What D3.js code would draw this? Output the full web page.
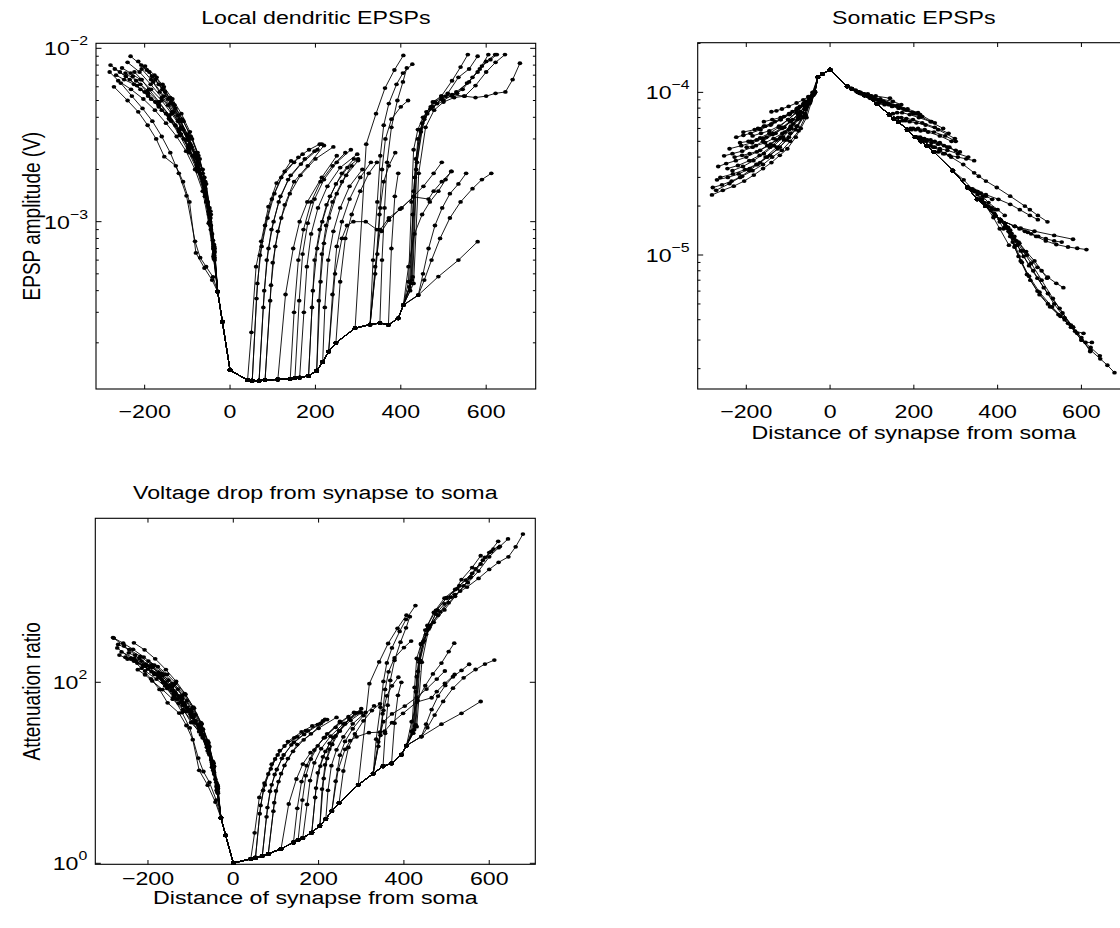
<!DOCTYPE html>
<html>
<head>
<meta charset="utf-8">
<script src="https://cdn.jsdelivr.net/npm/d3@7"></script>
<style>
  body { margin: 0; background: #fff; }
  text { font-family: "Liberation Sans", Arial, Helvetica, sans-serif; fill: #000; }
</style>
</head>
<body>
<svg id="fig" width="1120" height="928"></svg>
<script>
// ---- data: each point is [distance from soma (um), local EPSP (V), somatic EPSP (V)] ----
const xTicks = [-200, 0, 200, 400, 600];
const localTicks = [1e-3, 1e-2];
const somaTicks = [1e-5, 1e-4];
const attenTicks = [1, 100];

// main apical trunk, soma outwards
const trunk = [
  [0, 1.39e-4, 1.38e-4], [41, 1.22e-4, 1.09e-4], [52, 1.21e-4, 1.05e-4], [68, 1.21e-4, 1.0e-4],
  [82, 1.22e-4, 9.6e-5], [112, 1.23e-4, 8.5e-5], [141, 1.24e-4, 7.3e-5], [152, 1.25e-4, 6.9e-5],
  [163, 1.26e-4, 6.6e-5], [184, 1.29e-4, 5.9e-5], [203, 1.38e-4, 5.3e-5], [217, 1.55e-4, 5.0e-5],
  [231, 1.78e-4, 4.7e-5], [248, 2.0e-4, 4.3e-5], [293, 2.43e-4, 3.3e-5], [328, 2.55e-4, 2.6e-5],
  [351, 2.6e-4, 2.2e-5], [371, 2.54e-4, 2.0e-5], [394, 2.77e-4, 1.75e-5], [406, 3.3e-4, 1.65e-5],
  [441, 3.77e-4, 1.5e-5], [488, 4.82e-4, 1.4e-5], [535, 6.0e-4, 1.32e-5], [580, 7.67e-4, 1.25e-5]
];

// index of the trunk point each apical branch leaves from
const apicalFrom = [1, 2, 2, 3, 3, 4, 4, 5, 6, 7, 8, 9, 9, 10, 10, 11, 12, 13, 12, 15,
  14, 15, 15, 16, 15, 17, 19, 19, 19, 19, 19, 19, 19, 20, 20, 19];

const apicalBranches = [
  // near-soma oblique branches
  [[50, 2.3e-4, 1.06e-4], [61, 5.5e-4, 1.03e-4], [73, 7.7e-4, 1.0e-4], [90, 1.22e-3, 9.8e-5], [109, 1.67e-3, 9.5e-5], [143, 2.24e-3, 9.2e-5]],
  [[62, 3.6e-4, 1.02e-4], [70, 6.4e-4, 1.0e-4], [82, 9.5e-4, 9.8e-5], [98, 1.35e-3, 9.5e-5], [120, 1.8e-3, 9.1e-5], [150, 2.2e-3, 8.8e-5], [170, 2.45e-3, 8.4e-5]],
  [[64, 4.4e-4, 1.01e-4], [74, 7.2e-4, 9.8e-5], [88, 1.05e-3, 9.5e-5], [104, 1.45e-3, 9.2e-5], [128, 1.95e-3, 8.8e-5], [160, 2.35e-3, 8.3e-5], [185, 2.6e-3, 7.9e-5], [210, 2.8e-3, 7.5e-5]],
  [[78, 3.2e-4, 9.8e-5], [86, 6.0e-4, 9.6e-5], [97, 9.0e-4, 9.4e-5], [114, 1.3e-3, 9.0e-5], [136, 1.75e-3, 8.6e-5], [166, 2.15e-3, 8.1e-5], [205, 2.6e-3, 7.4e-5]],
  [[80, 4.0e-4, 9.7e-5], [90, 7.0e-4, 9.5e-5], [102, 1.0e-3, 9.2e-5], [118, 1.4e-3, 8.9e-5], [142, 1.85e-3, 8.5e-5], [175, 2.3e-3, 7.9e-5], [198, 2.55e-3, 7.5e-5], [215, 2.8e-3, 7.2e-5]],
  [[94, 3.5e-4, 9.3e-5], [100, 5.8e-4, 9.2e-5], [112, 8.8e-4, 9.0e-5], [128, 1.25e-3, 8.7e-5], [150, 1.7e-3, 8.3e-5], [182, 2.1e-3, 7.8e-5], [220, 2.75e-3, 7.1e-5]],
  [[96, 4.3e-4, 9.2e-5], [106, 7.2e-4, 9.0e-5], [120, 1.05e-3, 8.7e-5], [140, 1.45e-3, 8.4e-5], [165, 1.85e-3, 8.0e-5], [200, 2.3e-3, 7.4e-5], [242, 2.7e-3, 6.6e-5]],
  [[130, 3.8e-4, 8.4e-5], [148, 7.0e-4, 8.2e-5], [163, 1.0e-3, 8.0e-5], [181, 1.3e-3, 7.8e-5], [215, 1.8e-3, 7.3e-5], [250, 2.4e-3, 6.5e-5]],
  [[150, 3.0e-4, 7.4e-5], [160, 6.0e-4, 7.5e-5], [172, 9.0e-4, 7.5e-5], [190, 1.3e-3, 7.3e-5], [212, 1.7e-3, 7.0e-5], [240, 2.1e-3, 6.6e-5], [270, 2.5e-3, 6.0e-5]],
  [[162, 3.5e-4, 7.0e-5], [170, 6.5e-4, 7.0e-5], [182, 9.8e-4, 6.9e-5], [198, 1.35e-3, 6.8e-5], [220, 1.75e-3, 6.5e-5], [250, 2.2e-3, 6.1e-5], [283, 2.6e-3, 5.6e-5]],
  [[173, 3.0e-4, 6.7e-5], [180, 5.5e-4, 6.7e-5], [190, 8.5e-4, 6.6e-5], [206, 1.2e-3, 6.5e-5], [228, 1.6e-3, 6.3e-5], [258, 2.05e-3, 5.9e-5], [298, 2.45e-3, 5.2e-5]],
  [[192, 3.2e-4, 6.0e-5], [198, 6.0e-4, 6.0e-5], [210, 9.0e-4, 6.0e-5], [226, 1.25e-3, 5.9e-5], [248, 1.65e-3, 5.7e-5], [275, 2.05e-3, 5.4e-5], [300, 2.3e-3, 5.0e-5]],
  [[194, 4.0e-4, 5.9e-5], [204, 7.0e-4, 5.9e-5], [216, 1.0e-3, 5.8e-5], [234, 1.4e-3, 5.7e-5], [262, 1.9e-3, 5.4e-5], [290, 2.3e-3, 5.0e-5]],
  // middle obliques
  [[208, 3.5e-4, 5.3e-5], [215, 6.5e-4, 5.3e-5], [225, 9.5e-4, 5.2e-5], [240, 1.3e-3, 5.1e-5], [262, 1.7e-3, 4.9e-5], [285, 2.1e-3, 4.6e-5]],
  [[212, 4.5e-4, 5.2e-5], [220, 7.5e-4, 5.2e-5], [232, 1.05e-3, 5.1e-5], [250, 1.45e-3, 5.0e-5], [272, 1.85e-3, 4.7e-5], [300, 2.25e-3, 4.4e-5]],
  [[222, 3.2e-4, 5.0e-5], [230, 6.0e-4, 5.0e-5], [242, 8.8e-4, 4.9e-5], [258, 1.2e-3, 4.8e-5], [280, 1.6e-3, 4.6e-5], [310, 2.0e-3, 4.3e-5]],
  [[240, 3.8e-4, 4.7e-5], [250, 7.2e-4, 4.6e-5], [262, 1.0e-3, 4.5e-5], [280, 1.35e-3, 4.4e-5], [305, 1.8e-3, 4.2e-5], [330, 2.2e-3, 4.0e-5]],
  [[258, 4.5e-4, 4.3e-5], [270, 8.0e-4, 4.2e-5], [285, 1.1e-3, 4.1e-5], [305, 1.5e-3, 4.0e-5], [325, 1.9e-3, 3.9e-5], [344, 2.2e-3, 3.8e-5]],
  // long low branches
  [[246, 5.0e-4, 4.6e-5], [262, 8.0e-4, 4.4e-5], [274, 9.5e-4, 4.2e-5], [289, 1.0e-3, 4.0e-5], [318, 1.0e-3, 3.6e-5], [344, 9.0e-4, 3.2e-5], [355, 8.8e-4, 3.05e-5], [372, 1.02e-3, 2.85e-5], [398, 1.18e-3, 2.6e-5], [430, 1.39e-3, 2.3e-5], [465, 1.35e-3, 2.0e-5], [477, 1.5e-3, 1.9e-5], [496, 1.7e-3, 1.75e-5], [519, 1.95e-3, 1.6e-5]],
  [[340, 5.5e-4, 2.5e-5], [352, 9.0e-4, 2.45e-5], [372, 1.05e-3, 2.35e-5], [402, 1.2e-3, 2.2e-5], [430, 1.4e-3, 2.05e-5], [453, 1.6e-3, 1.9e-5], [477, 1.9e-3, 1.75e-5], [496, 2.2e-3, 1.65e-5]],
  // steep branches reaching high local EPSPs
  [[319, 2.8e-3, 2.9e-5], [342, 4.2e-3, 2.5e-5], [363, 5.9e-3, 2.2e-5], [385, 7.5e-3, 1.9e-5], [406, 9.1e-3, 1.65e-5]],
  [[335, 6.0e-4, 2.55e-5], [345, 1.3e-3, 2.45e-5], [352, 2.4e-3, 2.35e-5], [360, 3.6e-3, 2.2e-5], [372, 4.8e-3, 2.0e-5], [390, 6.2e-3, 1.7e-5], [405, 7.2e-3, 1.45e-5], [427, 8.1e-3, 1.15e-5]],
  [[340, 5.0e-4, 2.55e-5], [350, 1.1e-3, 2.45e-5], [356, 2.0e-3, 2.4e-5], [364, 3.0e-3, 2.3e-5], [378, 3.9e-3, 2.1e-5], [400, 4.6e-3, 1.9e-5], [417, 5.0e-3, 1.75e-5]],
  [[356, 6.0e-4, 2.2e-5], [362, 1.2e-3, 2.15e-5], [368, 2.2e-3, 2.1e-5], [378, 3.5e-3, 2.0e-5], [392, 5.0e-3, 1.8e-5], [405, 6.4e-3, 1.6e-5], [414, 7.7e-3, 1.45e-5]],
  [[345, 6.5e-4, 2.5e-5], [352, 1.2e-3, 2.45e-5], [360, 1.7e-3, 2.4e-5], [372, 2.1e-3, 2.3e-5], [387, 2.5e-3, 2.2e-5]],
  [[378, 7.0e-4, 1.98e-5], [386, 1.4e-3, 1.95e-5], [394, 1.9e-3, 1.9e-5]],
  // apical tuft
  [[418, 4.5e-4, 1.56e-5], [425, 1.3e-3, 1.48e-5], [430, 2.6e-3, 1.42e-5], [440, 3.4e-3, 1.3e-5], [452, 4.0e-3, 1.18e-5], [470, 4.6e-3, 1.0e-5], [495, 5.3e-3, 8.4e-6], [520, 6.5e-3, 7.3e-6], [540, 7.8e-3, 6.7e-6], [557, 9.2e-3, 6.3e-6]],
  [[420, 4.2e-4, 1.5e-5], [428, 1.1e-3, 1.4e-5], [435, 2.3e-3, 1.3e-5], [447, 3.3e-3, 1.15e-5], [462, 4.2e-3, 9.8e-6], [485, 4.8e-3, 8.0e-6], [510, 5.5e-3, 6.3e-6], [535, 6.8e-3, 5.0e-6], [560, 7.6e-3, 4.1e-6], [580, 9.0e-3, 3.6e-6]],
  [[422, 4.0e-4, 1.46e-5], [430, 1.5e-3, 1.3e-5], [440, 3.0e-3, 1.12e-5], [455, 3.9e-3, 9.2e-6], [475, 4.6e-3, 7.4e-6], [500, 5.0e-3, 5.9e-6], [530, 5.6e-3, 4.8e-6], [560, 6.4e-3, 4.0e-6], [585, 7.6e-3, 3.4e-6], [605, 9.2e-3, 3.3e-6]],
  [[424, 4.4e-4, 1.47e-5], [433, 1.8e-3, 1.36e-5], [445, 3.4e-3, 1.22e-5], [460, 4.3e-3, 1.06e-5], [480, 4.9e-3, 8.9e-6], [505, 5.3e-3, 7.0e-6], [532, 5.5e-3, 5.4e-6], [555, 6.3e-3, 4.4e-6], [580, 7.3e-3, 3.6e-6], [600, 8.4e-3, 3.1e-6], [621, 9.2e-3, 2.55e-6]],
  [[426, 4.6e-4, 1.4e-5], [436, 2.0e-3, 1.2e-5], [450, 3.7e-3, 9.8e-6], [470, 4.5e-3, 7.6e-6], [495, 5.1e-3, 6.0e-6], [520, 5.3e-3, 5.0e-6], [545, 5.8e-3, 4.3e-6], [568, 6.8e-3, 3.8e-6], [590, 7.9e-3, 3.3e-6], [610, 8.6e-3, 2.9e-6], [625, 9.2e-3, 2.9e-6]],
  [[428, 4.8e-4, 1.42e-5], [438, 2.2e-3, 1.26e-5], [455, 4.0e-3, 1.06e-5], [475, 4.9e-3, 8.6e-6], [495, 5.3e-3, 7.2e-6], [520, 5.4e-3, 5.8e-6], [548, 5.3e-3, 4.7e-6], [575, 5.2e-3, 3.7e-6], [600, 5.3e-3, 3.0e-6], [622, 5.5e-3, 2.6e-6], [645, 5.6e-3, 2.3e-6], [662, 6.6e-3, 2.1e-6], [679, 8.2e-3, 1.89e-6]],
  [[430, 4.4e-4, 1.36e-5], [442, 1.9e-3, 1.14e-5], [458, 3.5e-3, 9.0e-6], [478, 4.4e-3, 7.0e-6], [500, 4.9e-3, 5.7e-6], [525, 5.2e-3, 4.8e-6], [550, 5.3e-3, 4.2e-6], [575, 6.1e-3, 3.6e-6], [600, 7.3e-3, 3.0e-6], [622, 8.3e-3, 2.7e-6], [644, 9.2e-3, 2.4e-6]],
  // distal low branches
  [[452, 5.0e-4, 1.45e-5], [465, 7.0e-4, 1.4e-5], [480, 9.5e-4, 1.35e-5], [497, 1.2e-3, 1.3e-5], [515, 1.45e-3, 1.26e-5], [535, 1.65e-3, 1.22e-5], [553, 1.9e-3, 1.2e-5]],
  [[455, 4.6e-4, 1.46e-5], [472, 6.0e-4, 1.38e-5], [492, 8.0e-4, 1.3e-5], [515, 1.05e-3, 1.22e-5], [540, 1.3e-3, 1.16e-5], [568, 1.55e-3, 1.12e-5], [590, 1.75e-3, 1.1e-5], [612, 1.9e-3, 1.08e-5]],
  [[418, 5.5e-4, 1.5e-5], [432, 8.5e-4, 1.35e-5], [450, 1.1e-3, 1.2e-5], [468, 1.3e-3, 1.05e-5], [488, 1.5e-3, 9.2e-6], [505, 1.75e-3, 8.0e-6], [518, 1.95e-3, 7.2e-6]]
];

// basal dendrites (negative distances)
const basalStem = [[0, 1.39e-4, 1.38e-4], [-18, 2.65e-4, 1.3e-4], [-29, 3.95e-4, 1.24e-4]];

const basalBranches = [
  [[-38, 6.5e-4, 9.8e-5], [-48, 1.0e-3, 8.6e-5], [-58, 1.45e-3, 7.2e-5], [-75, 2.0e-3, 5.8e-5], [-95, 2.6e-3, 5.0e-5], [-115, 3.2e-3, 4.4e-5], [-138, 3.8e-3, 4.0e-5], [-160, 4.4e-3, 3.6e-5], [-185, 5.1e-3, 3.3e-5], [-210, 5.8e-3, 3.05e-5], [-235, 6.6e-3, 2.85e-5], [-258, 7.3e-3, 2.7e-5], [-280, 8.0e-3, 2.6e-5]],
  [[-40, 4.8e-4, 9.6e-5], [-56, 5.5e-4, 7.0e-5], [-70, 6.2e-4, 6.0e-5], [-82, 7.7e-4, 5.3e-5], [-102, 1.41e-3, 4.5e-5], [-120, 1.9e-3, 4.1e-5], [-140, 2.5e-3, 3.7e-5], [-160, 3.1e-3, 3.4e-5], [-182, 3.8e-3, 3.1e-5], [-205, 4.5e-3, 2.85e-5], [-230, 5.3e-3, 2.65e-5], [-256, 6.3e-3, 2.5e-5], [-282, 7.3e-3, 2.34e-5]],
  [[-42, 4.6e-4, 9.7e-5], [-60, 5.4e-4, 7.4e-5], [-80, 6.6e-4, 6.2e-5], [-95, 1.3e-3, 5.6e-5], [-110, 1.7e-3, 5.1e-5], [-127, 2.1e-3, 4.6e-5], [-154, 2.37e-3, 4.0e-5], [-173, 3.0e-3, 3.6e-5], [-193, 3.6e-3, 3.3e-5], [-215, 4.3e-3, 3.0e-5], [-240, 5.0e-3, 2.75e-5], [-272, 6.0e-3, 2.5e-5]],
  [[-36, 6.0e-4, 1.01e-4], [-45, 9.0e-4, 9.3e-5], [-56, 1.3e-3, 8.2e-5], [-70, 1.9e-3, 7.2e-5], [-88, 2.4e-3, 6.4e-5], [-108, 3.0e-3, 5.7e-5], [-128, 3.6e-3, 5.1e-5], [-150, 4.2e-3, 4.7e-5], [-175, 4.9e-3, 4.3e-5], [-200, 5.6e-3, 4.0e-5], [-225, 6.2e-3, 3.8e-5], [-248, 6.6e-3, 3.65e-5], [-267, 7.0e-3, 3.5e-5]],
  [[-37, 6.8e-4, 1.0e-4], [-47, 1.05e-3, 9.2e-5], [-60, 1.6e-3, 8.2e-5], [-76, 2.2e-3, 7.3e-5], [-95, 2.8e-3, 6.6e-5], [-115, 3.5e-3, 6.0e-5], [-137, 4.2e-3, 5.5e-5], [-160, 5.0e-3, 5.0e-5], [-185, 5.8e-3, 4.6e-5], [-210, 6.6e-3, 4.35e-5], [-233, 7.2e-3, 4.2e-5], [-253, 7.7e-3, 4.07e-5]],
  [[-38, 7.0e-4, 9.9e-5], [-48, 1.1e-3, 9.0e-5], [-60, 1.55e-3, 7.9e-5], [-78, 2.1e-3, 6.8e-5], [-98, 2.7e-3, 5.9e-5], [-120, 3.4e-3, 5.2e-5], [-143, 4.1e-3, 4.6e-5], [-168, 4.9e-3, 4.1e-5], [-193, 5.7e-3, 3.8e-5], [-220, 6.5e-3, 3.55e-5], [-245, 7.2e-3, 3.4e-5]],
  [[-37, 7.2e-4, 9.9e-5], [-46, 1.15e-3, 9.0e-5], [-58, 1.7e-3, 7.9e-5], [-74, 2.4e-3, 6.9e-5], [-92, 3.1e-3, 6.0e-5], [-112, 3.9e-3, 5.3e-5], [-134, 4.8e-3, 4.7e-5], [-158, 5.8e-3, 4.2e-5], [-183, 6.9e-3, 3.8e-5], [-208, 8.0e-3, 3.5e-5], [-233, 9.0e-3, 3.3e-5]],
  [[-37, 6.6e-4, 1.0e-4], [-47, 1.0e-3, 9.3e-5], [-60, 1.5e-3, 8.6e-5], [-76, 2.1e-3, 8.0e-5], [-96, 2.7e-3, 7.4e-5], [-118, 3.4e-3, 6.8e-5], [-142, 4.1e-3, 6.3e-5], [-166, 4.9e-3, 5.9e-5], [-190, 5.8e-3, 5.6e-5], [-207, 6.6e-3, 5.45e-5], [-224, 7.3e-3, 5.3e-5]],
  [[-36, 6.2e-4, 1.01e-4], [-45, 9.5e-4, 9.4e-5], [-57, 1.45e-3, 8.8e-5], [-72, 2.0e-3, 8.2e-5], [-90, 2.7e-3, 7.6e-5], [-110, 3.4e-3, 7.1e-5], [-132, 4.3e-3, 6.6e-5], [-155, 5.3e-3, 6.2e-5], [-180, 6.4e-3, 5.9e-5], [-207, 7.6e-3, 5.7e-5]],
  [[-38, 7.4e-4, 9.9e-5], [-48, 1.2e-3, 9.0e-5], [-60, 1.8e-3, 8.0e-5], [-76, 2.5e-3, 7.0e-5], [-94, 3.3e-3, 6.2e-5], [-114, 4.2e-3, 5.6e-5], [-135, 5.1e-3, 5.2e-5], [-155, 6.0e-3, 4.9e-5], [-177, 7.0e-3, 4.7e-5], [-199, 7.9e-3, 4.6e-5]],
  [[-38, 6.9e-4, 1.0e-4], [-48, 1.1e-3, 9.2e-5], [-62, 1.7e-3, 8.4e-5], [-80, 2.4e-3, 7.6e-5], [-100, 3.2e-3, 6.8e-5], [-122, 4.1e-3, 6.1e-5], [-145, 5.1e-3, 5.6e-5], [-167, 6.2e-3, 5.25e-5], [-189, 7.3e-3, 5.0e-5]],
  [[-40, 7.8e-4, 9.9e-5], [-50, 1.2e-3, 9.2e-5], [-64, 1.9e-3, 8.5e-5], [-80, 2.5e-3, 7.9e-5], [-98, 3.1e-3, 7.4e-5], [-118, 3.9e-3, 7.0e-5], [-138, 4.9e-3, 6.8e-5], [-158, 6.2e-3, 6.6e-5]],
  [[-42, 8.5e-4, 1.0e-4], [-52, 1.3e-3, 9.4e-5], [-64, 2.0e-3, 9.0e-5], [-80, 2.45e-3, 8.6e-5], [-99, 2.95e-3, 8.2e-5], [-115, 3.8e-3, 7.9e-5], [-128, 4.5e-3, 7.7e-5], [-140, 5.2e-3, 7.6e-5]],
  [[-39, 7.0e-4, 1.0e-4], [-49, 1.1e-3, 9.3e-5], [-62, 1.65e-3, 8.6e-5], [-78, 2.3e-3, 8.0e-5], [-97, 3.0e-3, 7.3e-5], [-118, 3.8e-3, 6.8e-5], [-140, 4.8e-3, 6.4e-5], [-158, 5.8e-3, 6.2e-5], [-172, 6.8e-3, 6.0e-5]],
  [[-39, 6.3e-4, 9.8e-5], [-50, 9.8e-4, 8.5e-5], [-64, 1.5e-3, 7.0e-5], [-82, 2.0e-3, 5.9e-5], [-103, 2.55e-3, 5.1e-5], [-125, 3.1e-3, 4.5e-5], [-150, 3.7e-3, 4.0e-5], [-176, 4.4e-3, 3.6e-5], [-203, 5.1e-3, 3.35e-5], [-232, 5.8e-3, 3.15e-5], [-262, 6.5e-3, 3.0e-5]],
  [[-36, 7.0e-4, 1.0e-4], [-45, 1.1e-3, 9.3e-5], [-56, 1.65e-3, 8.5e-5], [-71, 2.3e-3, 7.6e-5], [-89, 3.0e-3, 6.8e-5], [-109, 3.8e-3, 6.1e-5], [-130, 4.7e-3, 5.6e-5], [-152, 5.6e-3, 5.3e-5], [-175, 6.6e-3, 5.1e-5], [-195, 7.5e-3, 5.0e-5], [-215, 8.4e-3, 4.9e-5]],
  [[-37, 6.4e-4, 9.9e-5], [-47, 1.0e-3, 8.8e-5], [-60, 1.5e-3, 7.4e-5], [-78, 2.05e-3, 6.2e-5], [-98, 2.65e-3, 5.3e-5], [-120, 3.3e-3, 4.6e-5], [-143, 3.95e-3, 4.1e-5], [-167, 4.6e-3, 3.7e-5], [-192, 5.3e-3, 3.4e-5], [-218, 6.1e-3, 3.15e-5], [-244, 6.9e-3, 3.0e-5], [-270, 7.6e-3, 2.9e-5]],
  [[-36, 6.7e-4, 1.0e-4], [-46, 1.05e-3, 9.2e-5], [-58, 1.55e-3, 8.3e-5], [-74, 2.15e-3, 7.4e-5], [-93, 2.8e-3, 6.7e-5], [-114, 3.5e-3, 6.1e-5], [-136, 4.3e-3, 5.6e-5], [-160, 5.2e-3, 5.2e-5], [-186, 6.2e-3, 4.9e-5], [-212, 7.3e-3, 4.7e-5], [-240, 8.3e-3, 4.5e-5]],
  [[-39, 7.2e-4, 1.0e-4], [-50, 1.15e-3, 9.2e-5], [-63, 1.75e-3, 8.3e-5], [-80, 2.35e-3, 7.5e-5], [-100, 3.0e-3, 6.8e-5], [-122, 3.8e-3, 6.2e-5], [-145, 4.7e-3, 5.8e-5], [-165, 5.6e-3, 5.6e-5], [-185, 6.6e-3, 5.4e-5]],
  [[-38, 6.1e-4, 9.9e-5], [-47, 9.6e-4, 9.0e-5], [-59, 1.4e-3, 7.9e-5], [-76, 1.95e-3, 6.9e-5], [-96, 2.5e-3, 6.0e-5], [-118, 3.15e-3, 5.3e-5], [-142, 3.9e-3, 4.8e-5], [-167, 4.7e-3, 4.4e-5], [-192, 5.5e-3, 4.2e-5], [-210, 6.2e-3, 4.1e-5], [-228, 6.9e-3, 4.0e-5]]
];

// ---- assemble soma-to-tip paths ----
const paths = [trunk];
apicalBranches.forEach((b, i) => paths.push(trunk.slice(0, apicalFrom[i] + 1).concat(b)));
basalBranches.forEach(b => paths.push(basalStem.concat(b)));

const SX = 1.22; // the figure is stretched horizontally
const FONT = 19;

const svg = d3.select("#fig");

const panels = [
  {
    title: "Local dendritic EPSPs", ylabel: "EPSP amplitude (V)", xlabel: null,
    left: 96, right: 535.7, top: 43.3, bottom: 389,
    xDomain: [-314, 716], yDomain: [1.083e-4, 1.069e-2], yTicks: localTicks, minor: true,
    value: p => p[1], titleY: 23.6, tickY: 29
  },
  {
    title: "Somatic EPSPs", ylabel: null, xlabel: "Distance of synapse from soma",
    left: 697.7, right: 1130, top: 42.7, bottom: 389,
    xDomain: [-316, 716], yDomain: [1.5e-6, 2.02e-4], yTicks: somaTicks, minor: true,
    value: p => p[2], titleY: 23.6, tickY: 29, xlabelY: 438.6
  },
  {
    // attenuation = local EPSP / somatic EPSP
    title: "Voltage drop from synapse to soma", ylabel: "Attenuation ratio", xlabel: "Distance of synapse from soma",
    left: 95.3, right: 535.3, top: 518.3, bottom: 864.3,
    xDomain: [-323.5, 708], yDomain: [0.975, 6486], yTicks: attenTicks, minor: false,
    value: p => p[1] / p[2], titleY: 498.6, tickY: 20.5, xlabelY: 904
  }
];

function addText(g, x, y, str, anchor, rotate) {
  return g.append("text")
    .attr("transform", `translate(${x},${y}) scale(${SX},1)` + (rotate ? ` rotate(${rotate})` : ""))
    .attr("text-anchor", anchor)
    .style("font-size", FONT + "px")
    .text(str);
}

panels.forEach(cfg => {
  const x = d3.scaleLinear().domain(cfg.xDomain).range([cfg.left, cfg.right]);
  const y = d3.scaleLog().domain(cfg.yDomain).range([cfg.bottom, cfg.top]);
  const g = svg.append("g");
  const midX = (cfg.left + cfg.right) / 2;
  const midY = (cfg.top + cfg.bottom) / 2;

  // data lines + dots
  const line = d3.line().x(d => x(d[0])).y(d => y(cfg.value(d)));
  paths.forEach(p => {
    g.append("path")
      .attr("d", line(p))
      .attr("fill", "none")
      .attr("stroke", "#000")
      .attr("stroke-width", 0.9);
    g.selectAll(null)
      .data(p)
      .enter()
      .append("ellipse")
      .attr("cx", d => x(d[0]))
      .attr("cy", d => y(cfg.value(d)))
      .attr("rx", 2.3)
      .attr("ry", 1.9)
      .attr("fill", "#000");
  });

  // box
  g.append("rect")
    .attr("x", cfg.left).attr("y", cfg.top)
    .attr("width", cfg.right - cfg.left).attr("height", cfg.bottom - cfg.top)
    .attr("fill", "none").attr("stroke", "#000").attr("stroke-width", 1.1);

  // x ticks (bottom and top, inside)
  xTicks.forEach(t => {
    const px = x(t);
    g.append("line").attr("x1", px).attr("x2", px).attr("y1", cfg.bottom).attr("y2", cfg.bottom - 4.3)
      .attr("stroke", "#000");
    g.append("line").attr("x1", px).attr("x2", px).attr("y1", cfg.top).attr("y2", cfg.top + 4.3)
      .attr("stroke", "#000");
    addText(g, px, cfg.bottom + cfg.tickY, (t < 0 ? "\u2212" : "") + Math.abs(t), "middle");
  });

  // y ticks, major and minor (left and right, inside)
  const yTick = (v, len) => {
    const py = y(v);
    g.append("line").attr("x1", cfg.left).attr("x2", cfg.left + len).attr("y1", py).attr("y2", py)
      .attr("stroke", "#000");
    g.append("line").attr("x1", cfg.right).attr("x2", cfg.right - len).attr("y1", py).attr("y2", py)
      .attr("stroke", "#000");
  };
  cfg.yTicks.forEach(v => {
    yTick(v, 5.5);
    const e = Math.round(Math.log10(v));
    const lbl = g.append("text")
      .attr("transform", `translate(${cfg.left - 8},${y(v) + 7}) scale(${SX},1)`)
      .attr("text-anchor", "end")
      .style("font-size", FONT + "px");
    lbl.append("tspan").text("10");
    lbl.append("tspan").attr("dy", -10).style("font-size", "13px")
      .text((e < 0 ? "\u2212" : "") + Math.abs(e));
  });
  if (cfg.minor) {
    const lo = Math.floor(Math.log10(cfg.yDomain[0]));
    const hi = Math.ceil(Math.log10(cfg.yDomain[1]));
    for (let d = lo; d < hi; d++) {
      for (let k = 2; k <= 9; k++) {
        const v = k * Math.pow(10, d);
        if (v > cfg.yDomain[0] && v < cfg.yDomain[1]) yTick(v, 2.8);
      }
    }
  }

  // labels
  addText(g, midX, cfg.titleY, cfg.title, "middle");
  if (cfg.xlabel) addText(g, midX, cfg.xlabelY, cfg.xlabel, "middle");
  if (cfg.ylabel) addText(g, 40, midY, cfg.ylabel, "middle", -90);
});
</script>
</body>
</html>
